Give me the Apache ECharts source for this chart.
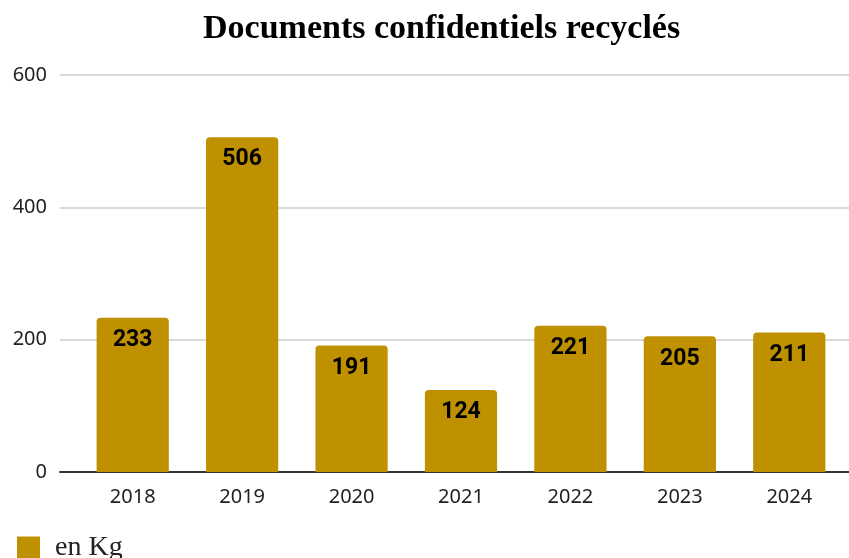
<!DOCTYPE html>
<html>
<head>
<meta charset="utf-8">
<script src="https://cdn.jsdelivr.net/npm/echarts@6/dist/echarts.min.js"></script>
<style>
  html, body { margin: 0; padding: 0; background: #fff; }
  #chart { width: 849px; height: 558px; }
</style>
</head>
<body>
<div id="chart"></div>
<script>
// Confidential documents recycled per year (kg)
const years = ['2018', '2019', '2020', '2021', '2022', '2023', '2024'];
const kilos = [233, 506, 191, 124, 221, 205, 211];
const yTicks = [0, 200, 400, 600];

const barColor = '#BF9000';
const chart = echarts.init(document.getElementById('chart'));

chart.setOption({
  animation: false,
  title: {
    text: 'Documents confidentiels recyclés',
    left: 198,
    top: 7,
    textStyle: {
      fontFamily: 'Liberation Serif',
      fontWeight: 'bold',
      fontSize: 34,
      color: '#000'
    }
  },
  legend: {
    left: 12,
    top: 529,
    itemWidth: 23,
    itemHeight: 23,
    icon: 'rect',
    textStyle: {
      fontFamily: 'Liberation Serif',
      fontSize: 28,
      color: '#222',
      padding: [0, 0, 0, 10]
    },
    data: ['en Kg']
  },
  grid: [
    // bars
    { left: 78, right: 5, top: 75, bottom: 86 },
    // gridlines, value labels and baseline
    { left: 60, right: 0, top: 75, bottom: 86 }
  ],
  xAxis: [
    {
      type: 'category',
      gridIndex: 0,
      data: years,
      axisLine: { show: false },
      axisTick: { show: false },
      axisLabel: {
        margin: 15,
        fontFamily: 'Noto Sans',
        fontSize: 20,
        color: '#222'
      }
    },
    {
      type: 'value',
      gridIndex: 1,
      min: 0,
      max: 1,
      axisLine: { show: true, lineStyle: { color: '#333', width: 2 } },
      axisTick: { show: false },
      axisLabel: { show: false },
      splitLine: { show: false }
    }
  ],
  yAxis: [
    {
      type: 'value',
      gridIndex: 0,
      min: yTicks[0],
      max: yTicks[yTicks.length - 1],
      interval: 200,
      show: false
    },
    {
      type: 'value',
      gridIndex: 1,
      min: yTicks[0],
      max: yTicks[yTicks.length - 1],
      interval: 200,
      axisLine: { show: false },
      axisTick: { show: false },
      axisLabel: {
        margin: 13,
        fontFamily: 'Noto Sans',
        fontSize: 20,
        color: '#222'
      },
      splitLine: { lineStyle: { color: '#ccc', width: 1.5 } }
    }
  ],
  series: [
    {
      name: 'en Kg',
      type: 'bar',
      xAxisIndex: 0,
      yAxisIndex: 0,
      data: kilos,
      barWidth: '66%',
      z: 3,
      itemStyle: { color: barColor, borderRadius: [4, 4, 0, 0] },
      label: {
        show: true,
        position: 'insideTop',
        distance: 11,
        fontFamily: 'Roboto',
        fontWeight: 'bold',
        fontSize: 23,
        color: '#000'
      }
    }
  ]
});
</script>
</body>
</html>
